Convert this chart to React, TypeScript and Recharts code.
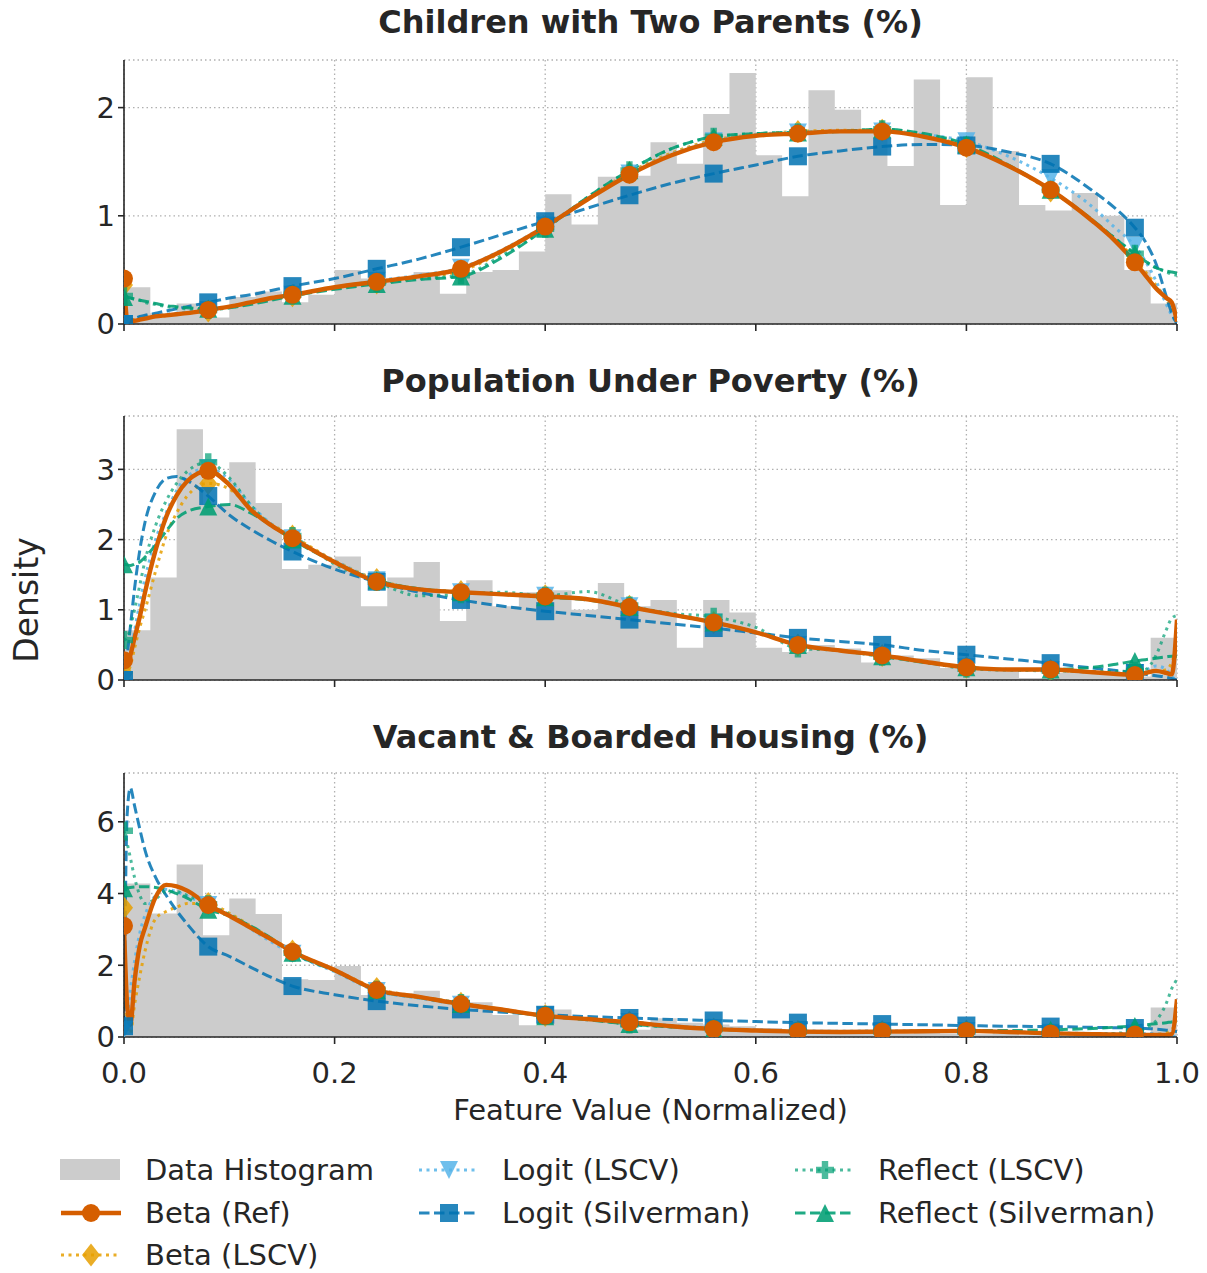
import React from 'react';
import { Area, CartesianGrid, ComposedChart, Line, XAxis, YAxis } from 'recharts';

// x positions where every density curve was sampled
const xGrid = [0, 0.003, 0.006, 0.01, 0.015, 0.02, 0.03, 0.04, 0.05, 0.06, 0.08, 0.1, 0.12, 0.14, 0.16, 0.2, 0.24, 0.28, 0.32, 0.36, 0.4, 0.44, 0.48, 0.52, 0.56, 0.6, 0.64, 0.68, 0.72, 0.76, 0.8, 0.84, 0.88, 0.92, 0.94, 0.96, 0.97, 0.98, 0.99, 0.995, 1];
// markers are drawn only at these x values
const markerX = [0, 0.08, 0.16, 0.24, 0.32, 0.4, 0.48, 0.56, 0.64, 0.72, 0.8, 0.88, 0.96];
const binWidth = 0.025;
const xTicks = [0, 0.2, 0.4, 0.6, 0.8, 1];

// --- Children with Two Parents (%)
const twoParentsHist = [0.34, 0.1, 0.19, 0.06, 0.25, 0.3, 0.2, 0.27, 0.5, 0.42, 0.4, 0.48, 0.28, 0.48, 0.5, 0.67, 1.2, 0.92, 1.36, 1.37, 1.68, 1.48, 1.94, 2.32, 1.56, 1.18, 2.16, 1.98, 1.78, 1.46, 2.26, 1.1, 2.28, 1.6, 1.1, 1.05, 1.21, 1.0, 0.5, 0.19];
const twoParentsBetaRef = [0.42, 0.05, 0.03, 0.03, 0.04, 0.05, 0.07, 0.08, 0.09, 0.1, 0.13, 0.16, 0.2, 0.24, 0.27, 0.34, 0.39, 0.44, 0.51, 0.68, 0.9, 1.15, 1.38, 1.56, 1.68, 1.74, 1.76, 1.78, 1.78, 1.73, 1.63, 1.46, 1.24, 0.95, 0.78, 0.57, 0.45, 0.33, 0.24, 0.2, 0.02];
const twoParentsBetaLscv = [0.36, 0.06, 0.04, 0.04, 0.05, 0.06, 0.07, 0.08, 0.09, 0.1, 0.12, 0.16, 0.2, 0.23, 0.26, 0.33, 0.38, 0.43, 0.49, 0.67, 0.9, 1.16, 1.4, 1.58, 1.7, 1.75, 1.78, 1.79, 1.79, 1.74, 1.64, 1.46, 1.23, 0.96, 0.79, 0.6, 0.48, 0.36, 0.22, 0.15, 0.05];
const twoParentsLogitLscv = [0, 0.02, 0.04, 0.05, 0.06, 0.07, 0.08, 0.09, 0.1, 0.11, 0.13, 0.16, 0.2, 0.24, 0.27, 0.34, 0.4, 0.45, 0.52, 0.69, 0.91, 1.16, 1.39, 1.57, 1.69, 1.75, 1.77, 1.78, 1.78, 1.75, 1.69, 1.55, 1.35, 1.08, 0.9, 0.72, 0.58, 0.4, 0.18, 0.08, 0];
const twoParentsLogitSilv = [0, 0.01, 0.03, 0.05, 0.07, 0.08, 0.1, 0.12, 0.14, 0.16, 0.2, 0.24, 0.27, 0.31, 0.35, 0.42, 0.51, 0.6, 0.71, 0.83, 0.95, 1.07, 1.19, 1.3, 1.39, 1.47, 1.55, 1.6, 1.64, 1.66, 1.65, 1.59, 1.48, 1.23, 1.08, 0.89, 0.76, 0.56, 0.25, 0.1, 0];
const twoParentsReflectLscv = [0.26, 0.25, 0.24, 0.23, 0.22, 0.2, 0.18, 0.16, 0.15, 0.14, 0.13, 0.15, 0.19, 0.23, 0.27, 0.33, 0.38, 0.42, 0.45, 0.64, 0.88, 1.17, 1.42, 1.62, 1.73, 1.76, 1.77, 1.78, 1.8, 1.75, 1.65, 1.46, 1.24, 0.95, 0.8, 0.65, 0.58, 0.52, 0.48, 0.46, 0.45];
const twoParentsReflectSilv = [0.25, 0.25, 0.24, 0.23, 0.22, 0.21, 0.19, 0.17, 0.16, 0.15, 0.14, 0.15, 0.18, 0.22, 0.26, 0.32, 0.37, 0.41, 0.44, 0.62, 0.88, 1.17, 1.42, 1.62, 1.73, 1.76, 1.77, 1.78, 1.8, 1.76, 1.66, 1.47, 1.24, 0.96, 0.8, 0.65, 0.58, 0.52, 0.49, 0.48, 0.47];

// --- Population Under Poverty (%)
const povertyHist = [0.71, 1.46, 3.57, 2.5, 3.1, 2.52, 1.58, 1.64, 1.76, 1.05, 1.46, 1.68, 0.84, 1.42, 1.05, 1.25, 1.28, 1.0, 1.38, 1.05, 1.14, 0.46, 1.14, 0.96, 0.46, 0.4, 0.5, 0.45, 0.25, 0.35, 0.31, 0.17, 0.17, 0.15, 0.03, 0.1, 0.1, 0.08, 0.05, 0.6];
const povertyBetaRef = [0.28, 0.22, 0.35, 0.6, 0.9, 1.25, 1.85, 2.32, 2.63, 2.83, 2.98, 2.78, 2.43, 2.2, 2.02, 1.68, 1.4, 1.29, 1.25, 1.22, 1.19, 1.15, 1.04, 0.93, 0.82, 0.68, 0.5, 0.42, 0.35, 0.26, 0.18, 0.15, 0.15, 0.11, 0.09, 0.07, 0.1, 0.13, 0.1, 0.08, 0.86];
const povertyBetaLscv = [0.1, 0.1, 0.2, 0.45, 0.75, 1.0, 1.55, 2.05, 2.38, 2.62, 2.8, 2.72, 2.45, 2.22, 2.05, 1.7, 1.43, 1.3, 1.26, 1.22, 1.2, 1.15, 1.05, 0.93, 0.82, 0.68, 0.5, 0.42, 0.35, 0.26, 0.18, 0.15, 0.14, 0.11, 0.09, 0.08, 0.1, 0.12, 0.15, 0.25, 0.5];
const povertyLogitLscv = [0, 0.15, 0.38, 0.7, 1.1, 1.45, 2.0, 2.38, 2.7, 2.9, 3.02, 2.85, 2.5, 2.22, 2.02, 1.7, 1.42, 1.3, 1.25, 1.22, 1.2, 1.16, 1.05, 0.93, 0.82, 0.68, 0.5, 0.42, 0.35, 0.26, 0.18, 0.15, 0.14, 0.11, 0.1, 0.1, 0.14, 0.2, 0.15, 0.05, 0];
const povertyLogitSilv = [0, 0.35, 0.75, 1.3, 1.85, 2.25, 2.68, 2.87, 2.9, 2.84, 2.62, 2.35, 2.15, 1.98, 1.83, 1.58, 1.4, 1.25, 1.14, 1.05, 0.98, 0.92, 0.86, 0.8, 0.74, 0.67, 0.6, 0.55, 0.5, 0.42, 0.36, 0.3, 0.24, 0.17, 0.14, 0.1, 0.08, 0.06, 0.04, 0.02, 0];
const povertyReflectLscv = [0.57, 0.6, 0.75, 1.0, 1.35, 1.7, 2.2, 2.55, 2.8, 2.97, 3.1, 2.88, 2.5, 2.2, 2.05, 1.65, 1.4, 1.2, 1.22, 1.25, 1.2, 1.26, 1.06, 0.95, 0.9, 0.75, 0.45, 0.42, 0.33, 0.26, 0.16, 0.14, 0.13, 0.12, 0.12, 0.13, 0.15, 0.35, 0.72, 0.88, 0.92];
const povertyReflectSilv = [1.65, 1.64, 1.63, 1.65, 1.68, 1.75, 1.92, 2.12, 2.3, 2.4, 2.47, 2.5, 2.38, 2.2, 2.0, 1.68, 1.42, 1.3, 1.25, 1.22, 1.18, 1.14, 1.04, 0.93, 0.82, 0.68, 0.5, 0.42, 0.34, 0.25, 0.18, 0.15, 0.15, 0.18, 0.22, 0.27, 0.29, 0.31, 0.33, 0.34, 0.34];

// --- Vacant & Boarded Housing (%)
const vacantHist = [4.28, 3.44, 4.81, 2.84, 3.86, 3.43, 1.61, 1.59, 1.98, 1.17, 1.22, 1.29, 1.0, 0.97, 0.61, 0.33, 0.77, 0.5, 0.45, 0.2, 0.52, 0.4, 0.35, 0.3, 0.25, 0.2, 0.2, 0.15, 0.15, 0.1, 0.12, 0.1, 0.08, 0.1, 0.05, 0.08, 0.05, 0.05, 0.06, 0.82];
const vacantBetaRef = [3.1, 0.9, 0.35, 1.55, 2.55, 3.05, 3.9, 4.24, 4.2, 4.08, 3.68, 3.38, 3.05, 2.72, 2.38, 1.87, 1.31, 1.12, 0.92, 0.76, 0.59, 0.5, 0.41, 0.3, 0.22, 0.18, 0.15, 0.14, 0.15, 0.16, 0.17, 0.14, 0.1, 0.08, 0.07, 0.07, 0.06, 0.06, 0.06, 0.08, 1.05];
const vacantBetaLscv = [3.6, 0.3, 0.1, 0.9, 1.7, 2.4, 3.3, 3.5, 3.62, 3.72, 3.72, 3.45, 3.1, 2.75, 2.4, 1.88, 1.35, 1.13, 0.94, 0.77, 0.6, 0.5, 0.42, 0.3, 0.22, 0.18, 0.15, 0.14, 0.15, 0.16, 0.17, 0.14, 0.1, 0.08, 0.07, 0.07, 0.07, 0.08, 0.12, 0.2, 0.5];
const vacantLogitLscv = [0.2, 0.6, 1.3, 2.1, 2.9, 3.4, 3.95, 4.12, 4.05, 3.92, 3.68, 3.4, 3.02, 2.65, 2.32, 1.82, 1.28, 1.08, 0.9, 0.74, 0.6, 0.5, 0.42, 0.32, 0.25, 0.2, 0.17, 0.16, 0.17, 0.17, 0.17, 0.15, 0.12, 0.1, 0.1, 0.1, 0.1, 0.09, 0.06, 0.03, 0];
const vacantLogitSilv = [0.3, 6.2, 6.95, 6.45, 5.8, 5.2, 4.45, 3.95, 3.52, 3.15, 2.52, 2.25, 1.95, 1.66, 1.42, 1.18, 1.0, 0.87, 0.77, 0.69, 0.62, 0.57, 0.53, 0.49, 0.46, 0.43, 0.4, 0.38, 0.36, 0.34, 0.32, 0.3, 0.29, 0.27, 0.26, 0.25, 0.24, 0.22, 0.19, 0.17, 0.15];
const vacantReflectLscv = [5.75, 5.4, 5.0, 4.45, 3.95, 3.72, 3.85, 4.05, 4.05, 3.95, 3.7, 3.42, 3.08, 2.72, 2.35, 1.85, 1.32, 1.12, 0.95, 0.76, 0.6, 0.5, 0.35, 0.28, 0.22, 0.18, 0.15, 0.14, 0.15, 0.16, 0.16, 0.14, 0.1, 0.08, 0.1, 0.15, 0.25, 0.45, 0.95, 1.35, 1.6];
const vacantReflectSilv = [4.15, 4.16, 4.17, 4.18, 4.19, 4.19, 4.17, 4.1, 4.0, 3.87, 3.55, 3.38, 3.1, 2.75, 2.35, 1.85, 1.3, 1.1, 0.92, 0.74, 0.58, 0.48, 0.36, 0.28, 0.22, 0.18, 0.15, 0.14, 0.15, 0.16, 0.18, 0.18, 0.2, 0.24, 0.27, 0.31, 0.34, 0.37, 0.4, 0.42, 0.43];

const FONT = "'DejaVu Sans', sans-serif";
const INK = '#262626';
const HIST_GRAY = '#cccccc';

// plot box inside each chart svg
const PLOT_LEFT = 124;
const PLOT_TOP = 20;
const PLOT_W = 1053;
const PLOT_H = 264;

type Kind = 'circle' | 'diamond' | 'triDown' | 'square' | 'plus' | 'triUp';

type Style = { name: string; color: string; dash?: string; width: number; kind: Kind; opacity: number };

const styles: Record<string, Style> = {
  betaRef: { name: 'Beta (Ref)', color: '#D55E00', width: 4.4, kind: 'circle', opacity: 1 },
  betaLscv: { name: 'Beta (LSCV)', color: '#E69F00', dash: '3 4.5', width: 3, kind: 'diamond', opacity: 0.85 },
  logitLscv: { name: 'Logit (LSCV)', color: '#56B4E9', dash: '3 4.5', width: 3, kind: 'triDown', opacity: 0.85 },
  logitSilv: { name: 'Logit (Silverman)', color: '#0072B2', dash: '10.5 4.5', width: 3, kind: 'square', opacity: 0.85 },
  reflectLscv: { name: 'Reflect (LSCV)', color: '#009E73', dash: '3 4.5', width: 3, kind: 'plus', opacity: 0.7 },
  reflectSilv: { name: 'Reflect (Silverman)', color: '#009E73', dash: '10.5 4.5', width: 3, kind: 'triUp', opacity: 0.88 },
};

// back to front, Beta (Ref) on top
const drawOrder = ['betaLscv', 'logitLscv', 'logitSilv', 'reflectLscv', 'reflectSilv', 'betaRef'];

function MarkerShape({ kind, cx, cy, color, opacity }: { kind: Kind; cx: number; cy: number; color: string; opacity: number }) {
  const s = 9;
  const common = { fill: color, fillOpacity: opacity, stroke: 'none' };
  switch (kind) {
    case 'circle':
      return <circle cx={cx} cy={cy} r={s} {...common} />;
    case 'square':
      return <rect x={cx - s} y={cy - s} width={2 * s} height={2 * s} {...common} />;
    case 'diamond':
      return <polygon points={`${cx},${cy - 11.5} ${cx + 9},${cy} ${cx},${cy + 11.5} ${cx - 9},${cy}`} {...common} />;
    case 'triUp':
      return <polygon points={`${cx},${cy - s} ${cx + s},${cy + s} ${cx - s},${cy + s}`} {...common} />;
    case 'triDown':
      return <polygon points={`${cx},${cy + s} ${cx + s},${cy - s} ${cx - s},${cy - s}`} {...common} />;
    case 'plus': {
      const w = 3.2;
      const d = `M${cx - w},${cy - s}H${cx + w}V${cy - w}H${cx + s}V${cy + w}H${cx + w}V${cy + s}H${cx - w}V${cy + w}H${cx - s}V${cy - w}H${cx - w}Z`;
      return <path d={d} {...common} />;
    }
  }
  return null;
}

const isMarker = (x: number) => markerX.some((m) => Math.abs(m - x) < 1e-9);

// markers are clipped to the plot box, like the axes clip in the original
const makeDot = (st: Style, idBase: string) => (props: any) => {
  const { cx, cy, payload, index } = props;
  if (!payload || !isMarker(payload.x) || cx == null || cy == null) return <g key={`n-${index}`} />;
  const clipId = `${idBase}-${index}`;
  return (
    <g key={`m-${index}`}>
      <defs>
        <clipPath id={clipId}>
          <rect x={PLOT_LEFT} y={PLOT_TOP} width={PLOT_W} height={PLOT_H} />
        </clipPath>
      </defs>
      <g clipPath={`url(#${clipId})`}>
        <MarkerShape kind={st.kind} cx={cx} cy={cy} color={st.color} opacity={st.opacity} />
      </g>
    </g>
  );
};

type PanelDef = {
  id: string;
  title: string;
  hist: number[];
  curves: Record<string, number[]>;
  yMax: number;
  yTicks: number[];
  top: number;
  titleY: number;
  xAxisHeight: number;
  showXLabels: boolean;
};

const panels: PanelDef[] = [
  {
    id: 'p1',
    title: 'Children with Two Parents (%)',
    hist: twoParentsHist,
    curves: { betaRef: twoParentsBetaRef, betaLscv: twoParentsBetaLscv, logitLscv: twoParentsLogitLscv, logitSilv: twoParentsLogitSilv, reflectLscv: twoParentsReflectLscv, reflectSilv: twoParentsReflectSilv },
    yMax: 2.44, yTicks: [0, 1, 2], top: 40, titleY: 22, xAxisHeight: 20, showXLabels: false,
  },
  {
    id: 'p2',
    title: 'Population Under Poverty (%)',
    hist: povertyHist,
    curves: { betaRef: povertyBetaRef, betaLscv: povertyBetaLscv, logitLscv: povertyLogitLscv, logitSilv: povertyLogitSilv, reflectLscv: povertyReflectLscv, reflectSilv: povertyReflectSilv },
    yMax: 3.76, yTicks: [0, 1, 2, 3], top: 396, titleY: 381, xAxisHeight: 20, showXLabels: false,
  },
  {
    id: 'p3',
    title: 'Vacant & Boarded Housing (%)',
    hist: vacantHist,
    curves: { betaRef: vacantBetaRef, betaLscv: vacantBetaLscv, logitLscv: vacantLogitLscv, logitSilv: vacantLogitSilv, reflectLscv: vacantReflectLscv, reflectSilv: vacantReflectSilv },
    yMax: 7.36, yTicks: [0, 2, 4, 6], top: 753, titleY: 737, xAxisHeight: 60, showXLabels: true,
  },
];

const tickStyle = { fontSize: 29, fill: INK, fontFamily: FONT };

function Panel({ p }: { p: PanelDef }) {
  const histData = p.hist.map((h, i) => ({ x: i * binWidth, h }));
  histData.push({ x: 1, h: p.hist[p.hist.length - 1] });
  return (
    <div style={{ position: 'absolute', left: 0, top: p.top }}>
      <ComposedChart width={1207} height={PLOT_TOP + PLOT_H + p.xAxisHeight} margin={{ top: PLOT_TOP, right: 1207 - PLOT_LEFT - PLOT_W, bottom: 0, left: 0 }}>
        <CartesianGrid stroke="#b0b0b0" strokeDasharray="1.5 3" strokeWidth={1.3} />
        <XAxis
          dataKey="x"
          type="number"
          domain={[0, 1]}
          ticks={xTicks}
          allowDataOverflow
          height={p.xAxisHeight}
          tickSize={7}
          tickMargin={18}
          tick={tickStyle}
          tickFormatter={(v: number) => (p.showXLabels ? v.toFixed(1) : '')}
          axisLine={{ stroke: INK, strokeWidth: 1.6 }}
          tickLine={{ stroke: INK, strokeWidth: 1.6 }}
        />
        <YAxis
          type="number"
          domain={[0, p.yMax]}
          ticks={p.yTicks}
          allowDataOverflow
          width={PLOT_LEFT}
          tickSize={6}
          tickMargin={3}
          tick={tickStyle}
          axisLine={{ stroke: INK, strokeWidth: 1.6 }}
          tickLine={{ stroke: INK, strokeWidth: 1.6 }}
        />
        <Area
          data={histData}
          dataKey="h"
          type="stepAfter"
          fill={HIST_GRAY}
          fillOpacity={1}
          stroke="none"
          isAnimationActive={false}
        />
        {drawOrder.map((key) => {
          const st = styles[key];
          const rows = xGrid.map((x, i) => ({ x, y: p.curves[key][i] }));
          return (
            <Line
              key={key}
              data={rows}
              dataKey="y"
              type="monotone"
              stroke={st.color}
              strokeOpacity={st.opacity}
              strokeWidth={st.width}
              strokeDasharray={st.dash}
              strokeLinejoin="round"
              dot={makeDot(st, `clip-${p.id}-${key}`)}
              activeDot={false}
              isAnimationActive={false}
            />
          );
        })}
      </ComposedChart>
    </div>
  );
}

function LegendHandle({ st }: { st: Style }) {
  return (
    <svg width={62} height={30} style={{ display: 'block' }}>
      <line x1={1} y1={15} x2={61} y2={15} stroke={st.color} strokeOpacity={st.opacity} strokeWidth={st.width} strokeDasharray={st.dash} />
      <MarkerShape kind={st.kind} cx={31} cy={15} color={st.color} opacity={st.opacity} />
    </svg>
  );
}

const legendCols = [
  { handleX: 60, textX: 145, keys: ['hist', 'betaRef', 'betaLscv'] },
  { handleX: 418, textX: 502, keys: ['logitLscv', 'logitSilv'] },
  { handleX: 794, textX: 878, keys: ['reflectLscv', 'reflectSilv'] },
];
const legendRowsY = [1170, 1213, 1255];

export default function App() {
  return (
    <div style={{ position: 'absolute', left: 0, top: 0, width: 1207, height: 1273, background: '#fff', fontFamily: FONT, color: INK }}>
      {panels.map((p) => (
        <React.Fragment key={p.title}>
          <div style={{ position: 'absolute', left: PLOT_LEFT, width: PLOT_W, top: p.titleY - 18, lineHeight: '36px', fontSize: 32, fontWeight: 'bold', textAlign: 'center', whiteSpace: 'nowrap' }}>
            {p.title}
          </div>
          <Panel p={p} />
        </React.Fragment>
      ))}
      <div style={{ position: 'absolute', left: PLOT_LEFT, width: PLOT_W, top: 1110 - 17, lineHeight: '34px', fontSize: 29, textAlign: 'center' }}>
        Feature Value (Normalized)
      </div>
      <div style={{ position: 'absolute', left: 27 - 100, top: 600 - 19, width: 200, lineHeight: '38px', fontSize: 33, textAlign: 'center', transform: 'rotate(-90deg)' }}>
        Density
      </div>
      {legendCols.map((col) =>
        col.keys.map((key, r) => (
          <React.Fragment key={key}>
            <div style={{ position: 'absolute', left: col.handleX, top: legendRowsY[r] - 15 }}>
              {key === 'hist' ? (
                <div style={{ width: 60, height: 21, marginTop: 4, background: HIST_GRAY }} />
              ) : (
                <LegendHandle st={styles[key]} />
              )}
            </div>
            <div style={{ position: 'absolute', left: col.textX, top: legendRowsY[r] - 17, lineHeight: '34px', fontSize: 29, whiteSpace: 'nowrap' }}>
              {key === 'hist' ? 'Data Histogram' : styles[key].name}
            </div>
          </React.Fragment>
        ))
      )}
    </div>
  );
}
